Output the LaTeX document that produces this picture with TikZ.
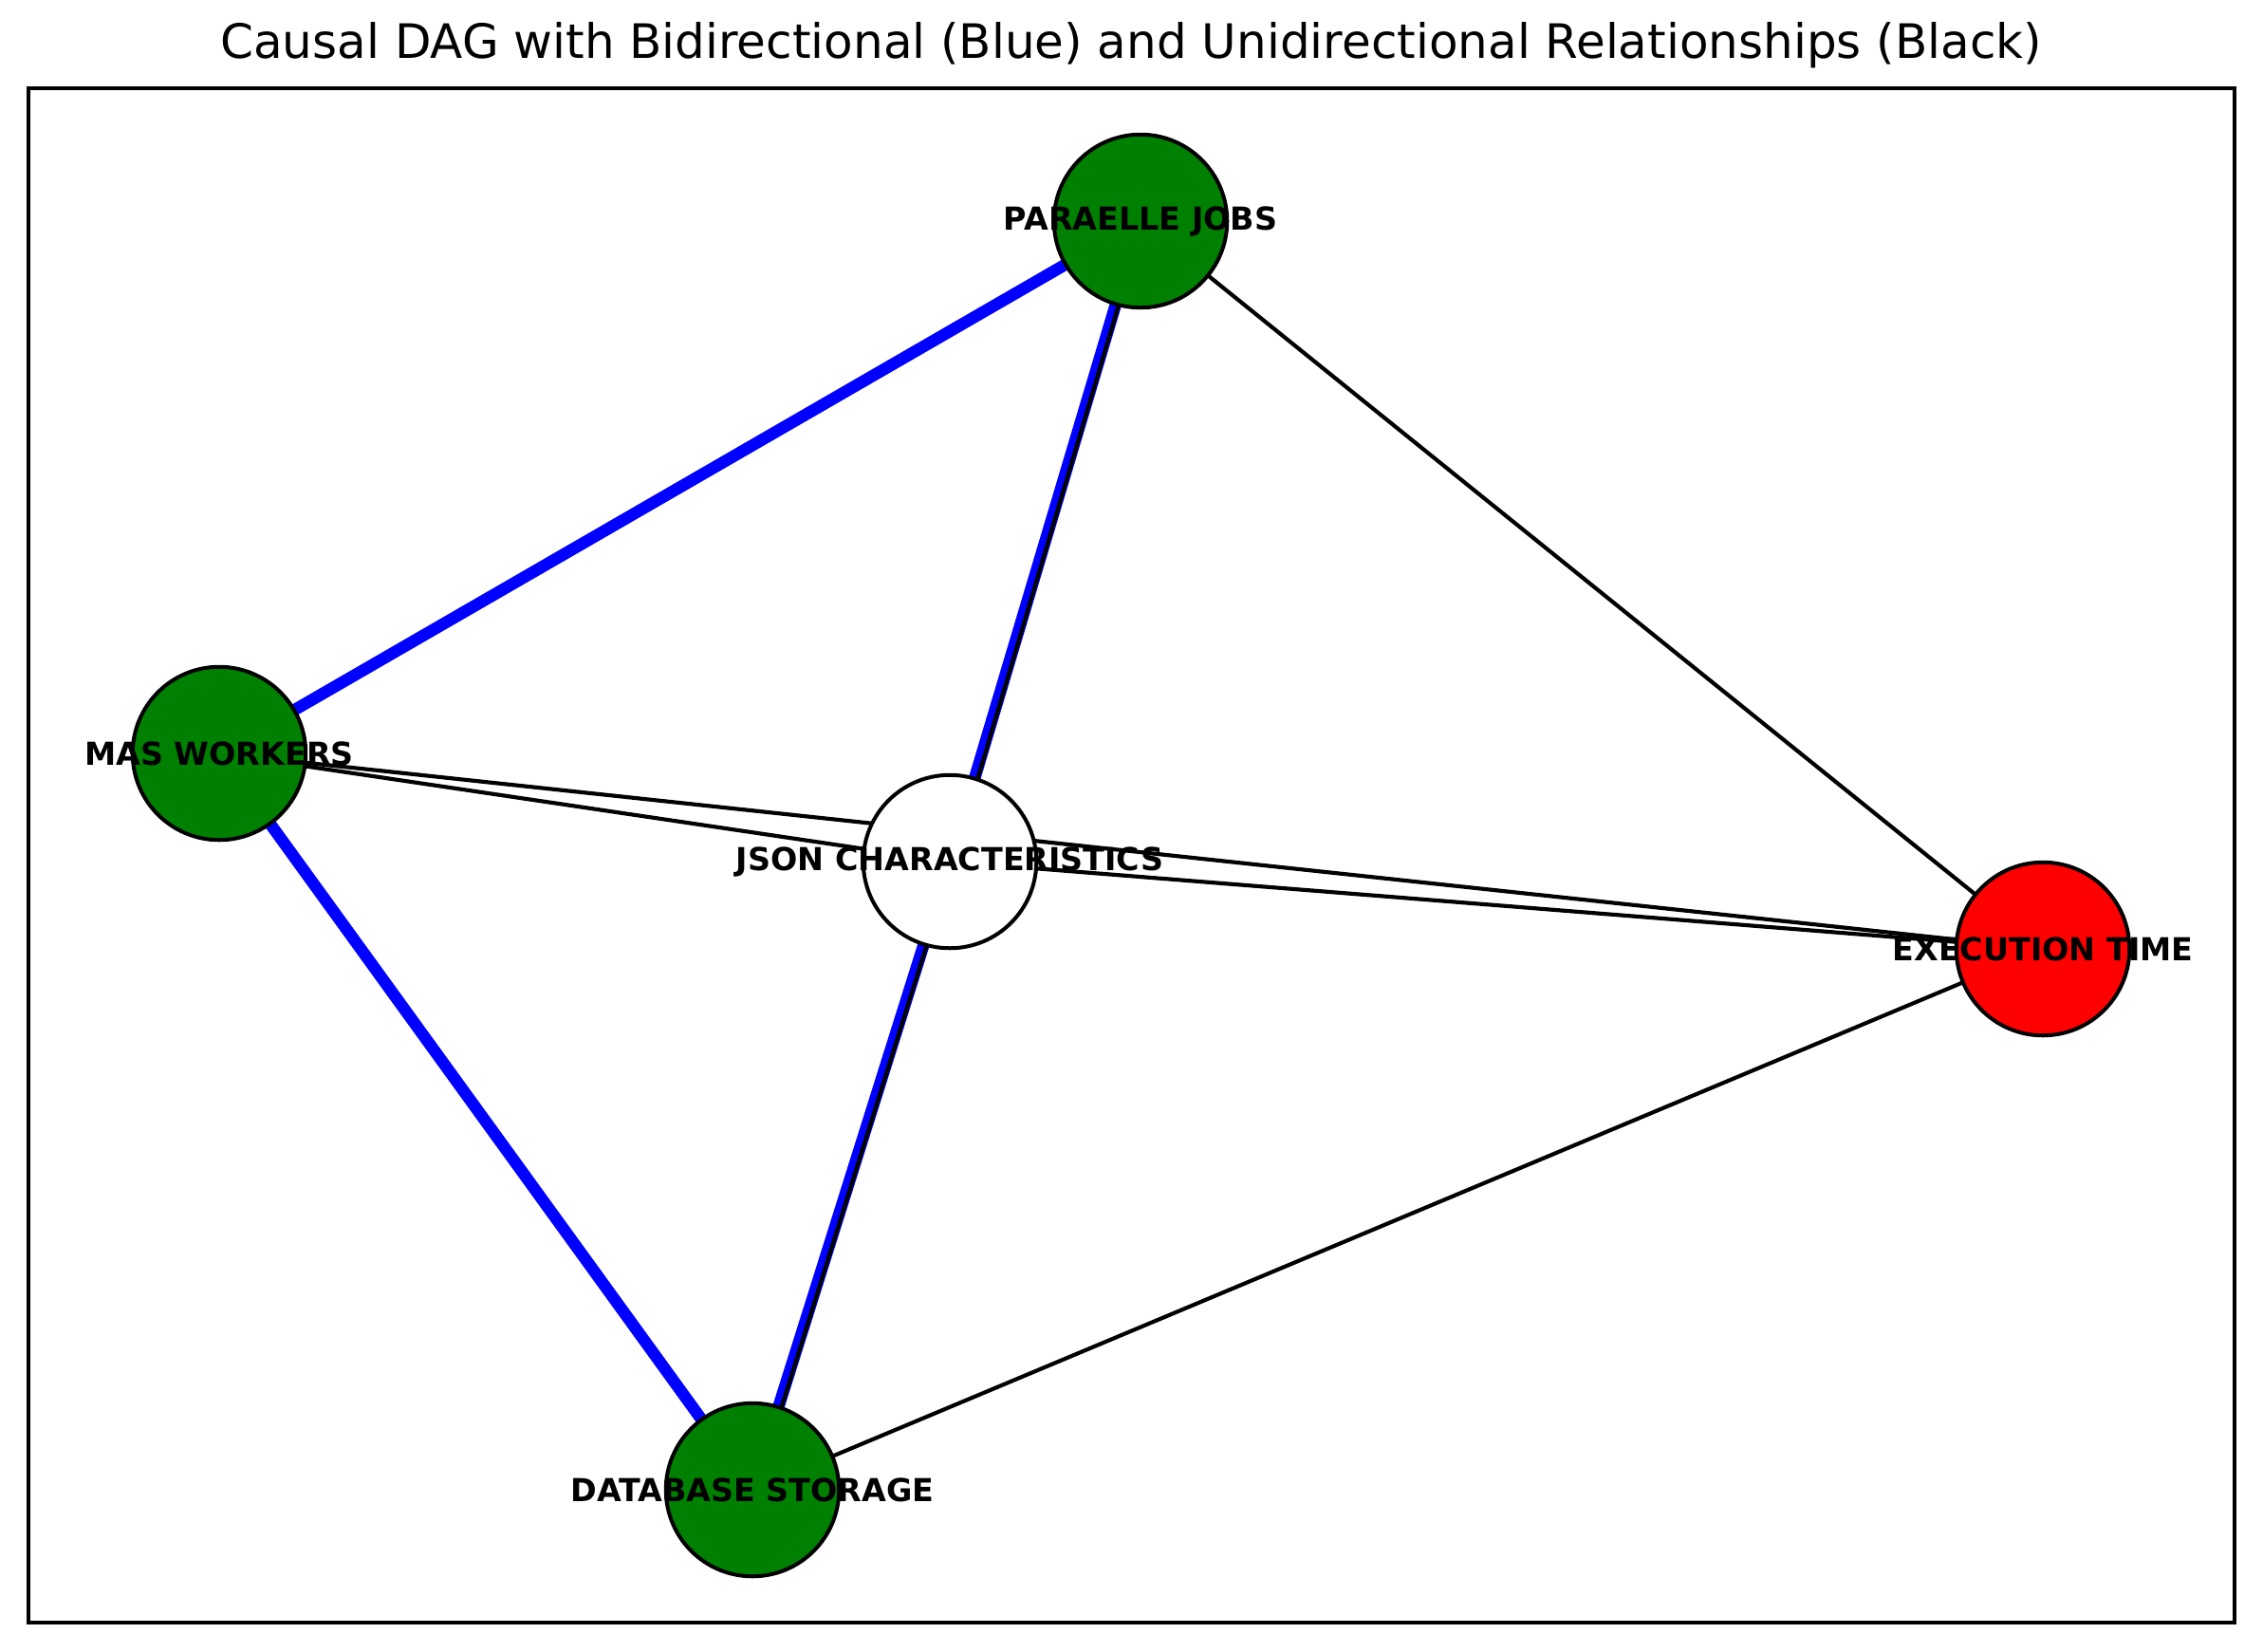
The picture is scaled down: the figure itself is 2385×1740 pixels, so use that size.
\documentclass[tikz,border=0pt]{standalone}
\usepackage{fontspec}
\setmainfont{DejaVu Sans}
\usetikzlibrary{backgrounds}
\definecolor{mplgreen}{RGB}{0,128,0}
\definecolor{mplred}{RGB}{255,0,0}
\definecolor{mplblue}{RGB}{0,0,255}
\begin{document}
\begin{tikzpicture}[x=0.24pt,y=-0.24pt,
  vnode/.style={circle,draw=black,line width=0.96pt,minimum size=43.8pt,inner sep=0pt},
  vlabel/.style={font=\bfseries\fontsize{8}{9.6}\selectfont,inner sep=0pt},
  biedge/.style={draw=mplblue,line width=3pt},
  uniedge/.style={draw=black,line width=1pt},
  titlestyle/.style={font=\fontsize{12}{14.4}\selectfont,inner sep=0pt,anchor=base}]
\useasboundingbox (0,0) rectangle (2385,1740);
\draw[line width=0.8pt] (30,93) rectangle (2355,1710);
\node[titlestyle] (title) at (1192,61) {Causal DAG with Bidirectional (Blue) and Unidirectional Relationships (Black)};

\node[vnode,fill=mplgreen] (pj) at (1202,233) {};
\node[vnode,fill=mplgreen] (mas) at (231,794) {};
\node[vnode,fill=white] (json) at (1001,908) {};
\node[vnode,fill=mplred] (exec) at (2153,1000) {};
\node[vnode,fill=mplgreen] (db) at (793,1570) {};

\node[vlabel] (pjl) at (pj) {PARAELLE JOBS};
\node[vlabel] (masl) at (mas) {MAS WORKERS};
\node[vlabel] (jsonl) at (json) {JSON CHARACTERISTICS};
\node[vlabel] (execl) at (exec) {EXECUTION TIME};
\node[vlabel] (dbl) at (db) {DATABASE STORAGE};

\begin{pgfonlayer}{background}
\draw[biedge] (mas.center) -- (pj.center);
\draw[biedge] (mas.center) -- (db.center);
\draw[biedge] (pj.center) -- (json.center);
\draw[biedge] (json.center) -- (db.center);
\draw[uniedge] ([shift={(3,1)}]pj.center) -- ([shift={(3,1)}]json.center);
\draw[uniedge] ([shift={(3,1)}]json.center) -- ([shift={(3,1)}]db.center);
\draw[uniedge] (pj.center) -- (exec.center);
\draw[uniedge] (mas.center) -- (json.center);
\draw[uniedge] (mas.center) -- (exec.center);
\draw[uniedge] (json.center) -- (exec.center);
\draw[uniedge] (db.center) -- (exec.center);
\end{pgfonlayer}
\end{tikzpicture}
\end{document}
